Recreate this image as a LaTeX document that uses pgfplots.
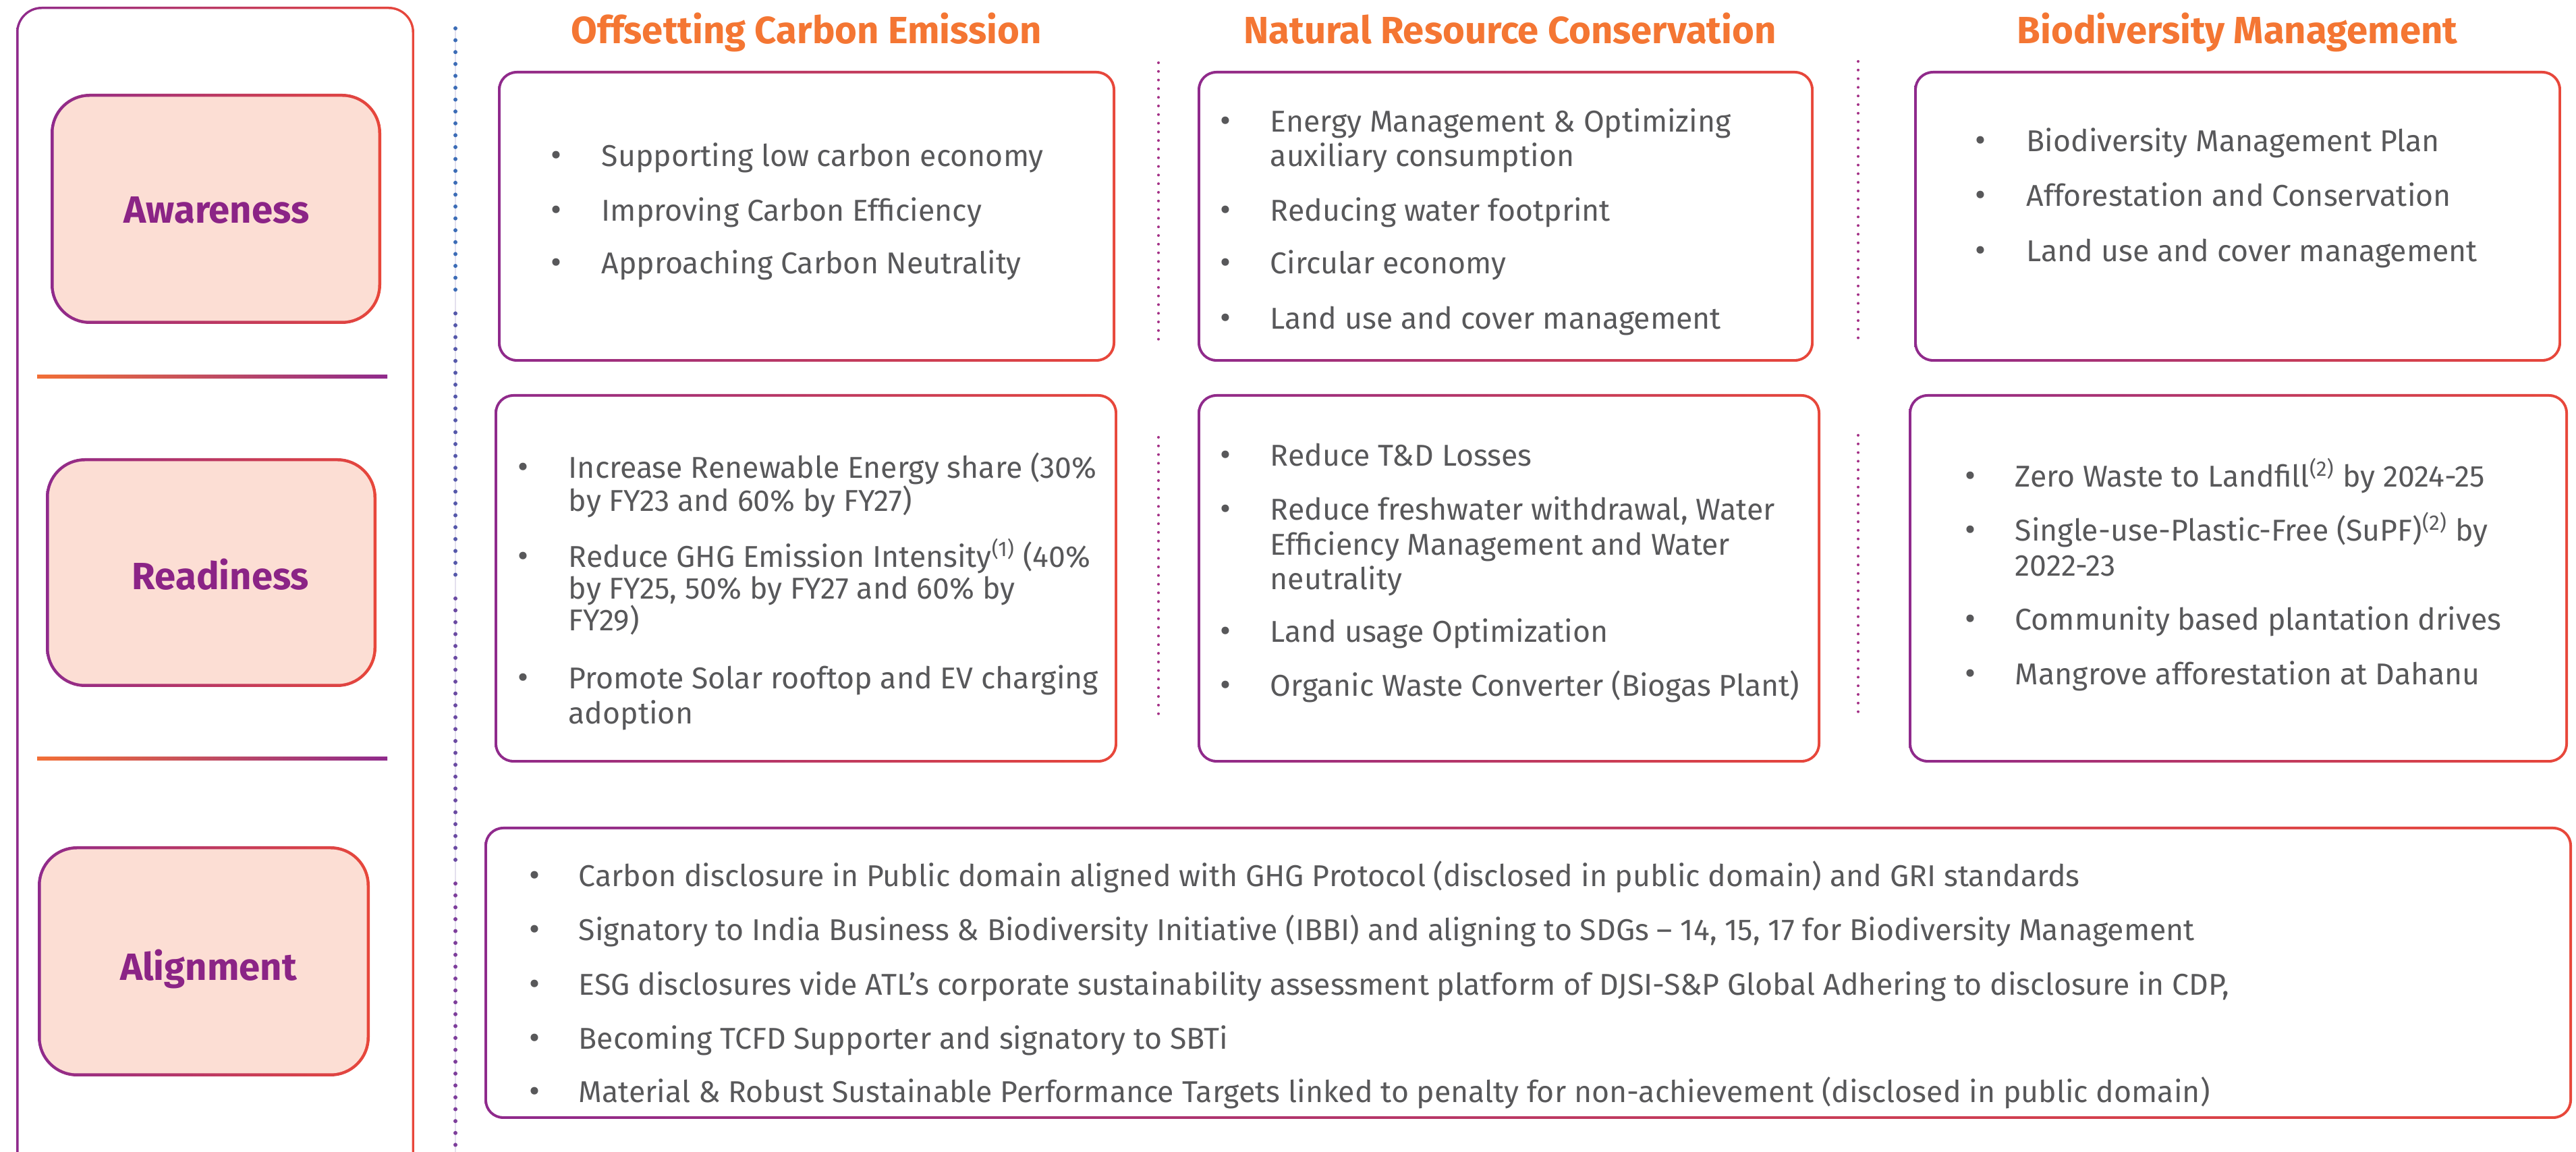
\documentclass[border=0pt]{standalone}
\usepackage{pgfplots}
\pgfplotsset{compat=1.18}
\usepackage{fontspec}
\setmainfont{Fira Sans}
\definecolor{bpurple}{HTML}{8F2A8C}
\definecolor{bred}{HTML}{E8473A}
\definecolor{sorange}{HTML}{F26F36}
\definecolor{torange}{HTML}{F47633}
\definecolor{lpurple}{HTML}{8B2486}
\definecolor{pinkfill}{HTML}{FCDED4}
\definecolor{gtext}{HTML}{58585A}
\definecolor{dotA}{HTML}{3C6CB6}
\definecolor{dotB}{HTML}{5558AA}
\definecolor{dotC}{HTML}{6A4AA2}
\definecolor{dotD}{HTML}{7D3E9B}
\definecolor{pinkdot}{HTML}{A32F86}
\definecolor{lav}{HTML}{E4E0EE}
% gradient-bordered rounded box: x1,y1,x2,y2,radius,inner radius,fill,thickness
\newcommand{\gbox}[8]{%
  \shade[left color=bpurple, right color=bred, rounded corners=#5] (axis cs:#1,#2) rectangle (axis cs:#3,#4);
  \fill[#7, rounded corners=#6] ([xshift=#8,yshift=-#8]axis cs:#1,#2) rectangle ([xshift=-#8,yshift=#8]axis cs:#3,#4);
}
\newcommand{\bl}[4]{%
  \node[bul] at (axis cs:#1,#3) {\textbullet};
  \node[bt] at (axis cs:#2,#3) {#4};
}
\newcommand{\tl}[3]{\node[bt] at (axis cs:#1,#2) {#3};}
\begin{document}
\begin{tikzpicture}[
  bt/.style={anchor=mid west, inner sep=0pt, yshift=-0.6mm, text=gtext, font=\fontsize{12.7}{15}\selectfont},
  bul/.style={anchor=mid, inner sep=0pt, yshift=-0.6mm, text=gtext, font=\fontsize{14}{15}\selectfont},
  ttl/.style={anchor=mid, inner sep=0pt, yshift=-0.5mm, text=torange, font=\fontsize{16}{19}\selectfont\bfseries},
  lab/.style={anchor=mid, inner sep=0pt, yshift=-0.5mm, text=lpurple, font=\fontsize{16}{19}\selectfont\bfseries}]
\begin{axis}[
  width=38.18cm, height=17.07cm, scale only axis,
  xmin=0, xmax=3818, ymin=0, ymax=1707, y dir=reverse,
  axis lines=none, clip=true]

% ---- left column outer box
\gbox{24}{10}{614}{1745}{3.8mm}{3.45mm}{white}{0.35mm}
% label boxes
\gbox{75}{139}{565}{480}{5.8mm}{5.35mm}{pinkfill}{0.45mm}
\gbox{68}{679}{558}{1018}{5.8mm}{5.35mm}{pinkfill}{0.45mm}
\gbox{56}{1254}{548}{1595}{5.8mm}{5.35mm}{pinkfill}{0.45mm}
\node[lab] at (axis cs:321,316) {Awareness};
\node[lab] at (axis cs:327,859) {Readiness};
\node[lab] at (axis cs:309,1438) {Alignment};
% separators
\shade[left color=sorange, right color=bpurple] (axis cs:55,556) rectangle (axis cs:574,561);
\shade[left color=sorange, right color=bpurple] (axis cs:55,1122) rectangle (axis cs:574,1127);

% ---- main vertical dotted line
\addplot[draw=lav, line width=0.15mm] coordinates {(675,42) (675,1707)};
\addplot[draw=dotA, line width=0.6mm, line cap=round, dash pattern=on 0pt off 1.76mm] coordinates {(675,42) (675,429.2)};
\addplot[draw=dotB, line width=0.6mm, line cap=round, dash pattern=on 0pt off 1.76mm] coordinates {(675,464.4) (675,851.6)};
\addplot[draw=dotC, line width=0.6mm, line cap=round, dash pattern=on 0pt off 1.76mm] coordinates {(675,886.8) (675,1274)};
\addplot[draw=dotD, line width=0.6mm, line cap=round, dash pattern=on 0pt off 1.76mm] coordinates {(675,1309.2) (675,1720)};

% ---- small dotted separators
\addplot[draw=pinkdot, line width=0.4mm, line cap=round, dash pattern=on 0pt off 1.28mm] coordinates {(1717,93) (1717,504)};
\addplot[draw=pinkdot, line width=0.4mm, line cap=round, dash pattern=on 0pt off 1.28mm] coordinates {(1717,648) (1717,1067)};
\addplot[draw=pinkdot, line width=0.4mm, line cap=round, dash pattern=on 0pt off 1.28mm] coordinates {(2754,91) (2754,502)};
\addplot[draw=pinkdot, line width=0.4mm, line cap=round, dash pattern=on 0pt off 1.28mm] coordinates {(2754,645) (2754,1064)};

% ---- titles
\node[ttl] at (axis cs:1195,50) {Offsetting Carbon Emission};
\node[ttl] at (axis cs:2238,50) {Natural Resource Conservation};
\node[ttl] at (axis cs:3316,50) {Biodiversity Management};

% ---- content boxes
\gbox{738}{105}{1653}{536}{2.8mm}{2.4mm}{white}{0.4mm}
\gbox{1775}{105}{2688}{536}{2.8mm}{2.4mm}{white}{0.4mm}
\gbox{2837}{105}{3796}{536}{2.8mm}{2.4mm}{white}{0.4mm}
\gbox{733}{584}{1656}{1130}{2.8mm}{2.4mm}{white}{0.4mm}
\gbox{1775}{584}{2698}{1130}{2.8mm}{2.4mm}{white}{0.4mm}
\gbox{2829}{584}{3806}{1130}{2.8mm}{2.4mm}{white}{0.4mm}
\gbox{718}{1225}{3812}{1658}{2.8mm}{2.4mm}{white}{0.4mm}

% A1
\bl{824}{891}{231}{Supporting low carbon economy}
\bl{824}{891}{312}{Improving Carbon Efficiency}
\bl{824}{891}{390}{Approaching Carbon Neutrality}
% B1
\bl{1816}{1882}{180}{Energy Management \& Optimizing}
\tl{1882}{231}{auxiliary consumption}
\bl{1816}{1882}{312}{Reducing water footprint}
\bl{1816}{1882}{390}{Circular economy}
\bl{1816}{1882}{472}{Land use and cover management}
% C1
\bl{2935}{3003}{209}{Biodiversity Management Plan}
\bl{2935}{3003}{290}{Afforestation and Conservation}
\bl{2935}{3003}{372}{Land use and cover management}
% A2
\bl{775}{842}{693}{Increase Renewable Energy share (30\%}
\tl{842}{742}{by FY23 and 60\% by FY27)}
\bl{775}{842}{825}{Reduce GHG Emission Intensity\textsuperscript{(1)} (40\%}
\tl{842}{872}{by FY25, 50\% by FY27 and 60\% by}
\tl{842}{919}{FY29)}
\bl{775}{842}{1005}{Promote Solar rooftop and EV charging}
\tl{842}{1057}{adoption}
% B2
\bl{1816}{1882}{675}{Reduce T\&D Losses}
\bl{1816}{1882}{755}{Reduce freshwater withdrawal, Water}
\tl{1882}{807}{Efficiency Management and Water}
\tl{1882}{858}{neutrality}
\bl{1816}{1882}{936}{Land usage Optimization}
\bl{1816}{1882}{1016}{Organic Waste Converter (Biogas Plant)}
% C2
\bl{2920}{2986}{706}{Zero Waste to Landfill\textsuperscript{(2)} by 2024-25}
\bl{2920}{2986}{786}{Single-use-Plastic-Free (SuPF)\textsuperscript{(2)} by}
\tl{2986}{838}{2022-23}
\bl{2920}{2986}{918}{Community based plantation drives}
\bl{2920}{2986}{999}{Mangrove afforestation at Dahanu}
% Row 3
\bl{792}{857}{1298}{Carbon disclosure in Public domain aligned with GHG Protocol (disclosed in public domain) and GRI standards}
\bl{792}{857}{1378}{Signatory to India Business \& Biodiversity Initiative (IBBI) and aligning to SDGs – 14, 15, 17 for Biodiversity Management}
\bl{792}{857}{1459}{ESG disclosures vide ATL’s corporate sustainability assessment platform of DJSI-S\&P Global Adhering to disclosure in CDP,}
\bl{792}{857}{1539}{Becoming TCFD Supporter and signatory to SBTi}
\bl{792}{857}{1618}{Material \& Robust Sustainable Performance Targets linked to penalty for non-achievement (disclosed in public domain)}
\end{axis}
\pgfresetboundingbox
\path[use as bounding box] (current axis.south west) rectangle (current axis.north east);
\end{tikzpicture}
\end{document}
